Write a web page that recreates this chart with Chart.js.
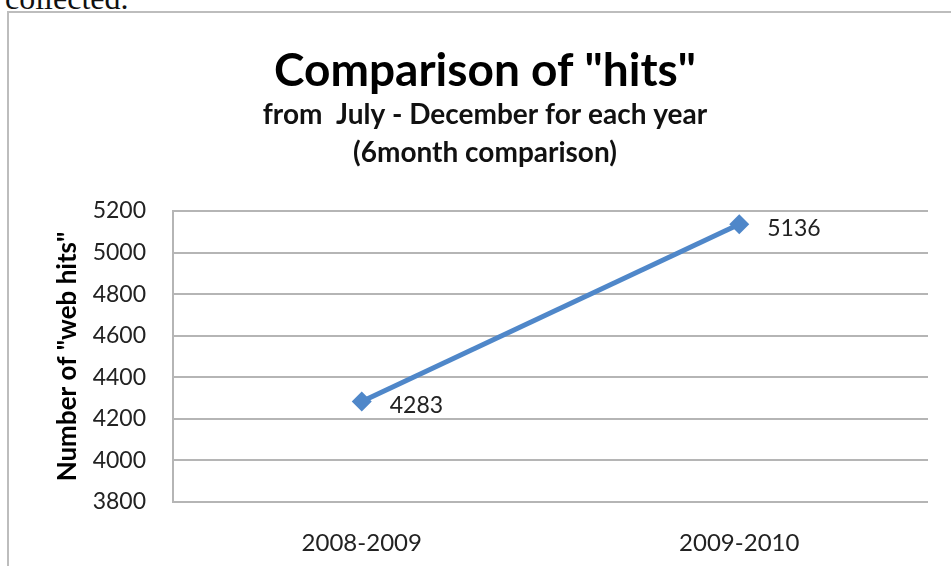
<!DOCTYPE html>
<html>
<head>
<meta charset="utf-8">
<title>Comparison of "hits"</title>
<script src="https://cdn.jsdelivr.net/npm/chart.js@4/dist/chart.umd.min.js"></script>
<style>
  html, body { margin: 0; padding: 0; background: #fff; overflow: hidden; }
  #page { position: relative; width: 951px; height: 566px; }
  #lead {
    position: absolute; left: 5px; top: -18px;
    font: 32px/32px "Liberation Serif", serif; color: #111;
  }
  #frame {
    position: absolute; left: 7px; top: 11px; right: -4px; bottom: -4px;
    border-left: 2px solid #bdbdbd; border-top: 2px solid #bdbdbd;
  }
  #wrap { position: absolute; left: 0; top: 0; width: 951px; height: 566px; }
</style>
</head>
<body>
<div id="page">
  <div id="lead">collected.</div>
  <div id="frame"></div>
  <div id="wrap"><canvas id="hitsChart"></canvas></div>
</div>
<script>
// Six-month (July - December) web hit totals per season
const periods = ['2008-2009', '2009-2010'];
const hits = [4283, 5136];
const yTicks = [3800, 4000, 4200, 4400, 4600, 4800, 5000, 5200];

const FONT = 'Lato, "Open Sans", sans-serif';
const lineBlue = '#4f87c9';
const gridGray = '#b5b5b5';

// Writes each value just to the right of its marker
const valueLabels = {
  id: 'valueLabels',
  afterDatasetsDraw(chart) {
    const { ctx } = chart;
    const meta = chart.getDatasetMeta(0);
    ctx.save();
    ctx.font = '23px ' + FONT;
    ctx.fillStyle = '#222';
    ctx.textAlign = 'left';
    ctx.textBaseline = 'middle';
    meta.data.forEach((pt, i) => {
      ctx.fillText(String(hits[i]), pt.x + 28, pt.y + 4);
    });
    ctx.restore();
  }
};

const ctx = document.getElementById('hitsChart');

new Chart(ctx, {
  type: 'line',
  data: {
    labels: periods,
    datasets: [{
      data: hits,
      borderColor: lineBlue,
      backgroundColor: lineBlue,
      borderWidth: 5,
      tension: 0,
      pointStyle: 'rectRot',
      pointRadius: 10,
      pointHoverRadius: 10,
      pointBorderWidth: 0,
      pointBackgroundColor: lineBlue
    }]
  },
  options: {
    responsive: true,
    maintainAspectRatio: false,
    animation: false,
    layout: { padding: { left: 42, right: 23, top: 0, bottom: 9 } },
    plugins: {
      legend: { display: false },
      tooltip: { enabled: false },
      title: {
        display: true,
        text: 'Comparison of "hits"',
        color: '#000',
        font: { family: FONT, size: 46, weight: 'bold', lineHeight: '50px' },
        padding: { top: 46, bottom: 0 }
      },
      subtitle: {
        display: true,
        text: ['from  July - December for each year', '(6month comparison)'],
        color: '#111',
        font: { family: FONT, size: 28, weight: 'bold', lineHeight: '38px' },
        padding: { top: 0, bottom: 39 }
      }
    },
    scales: {
      x: {
        offset: true,
        afterFit(scale) { scale.height = 55; },
        grid: { display: false, drawTicks: false },
        border: { display: false },
        ticks: {
          color: '#222',
          font: { family: FONT, size: 24 },
          padding: 27,
          maxRotation: 0
        }
      },
      y: {
        min: yTicks[0],
        max: yTicks[yTicks.length - 1],
        afterFit(scale) { scale.width = 131; },
        afterBuildTicks(scale) { scale.ticks = yTicks.map(v => ({ value: v })); },
        grid: { color: gridGray, lineWidth: 2, drawTicks: false },
        border: { display: true, color: gridGray, width: 2 },
        ticks: {
          color: '#222',
          font: { family: FONT, size: 23 },
          padding: 27,
          callback: v => String(v)
        },
        title: {
          display: true,
          text: 'Number of "web hits"',
          color: '#000',
          font: { family: FONT, size: 26, weight: 'bold' },
          padding: { top: 10, bottom: 0 }
        }
      }
    }
  },
  plugins: [valueLabels]
});
</script>
</body>
</html>
